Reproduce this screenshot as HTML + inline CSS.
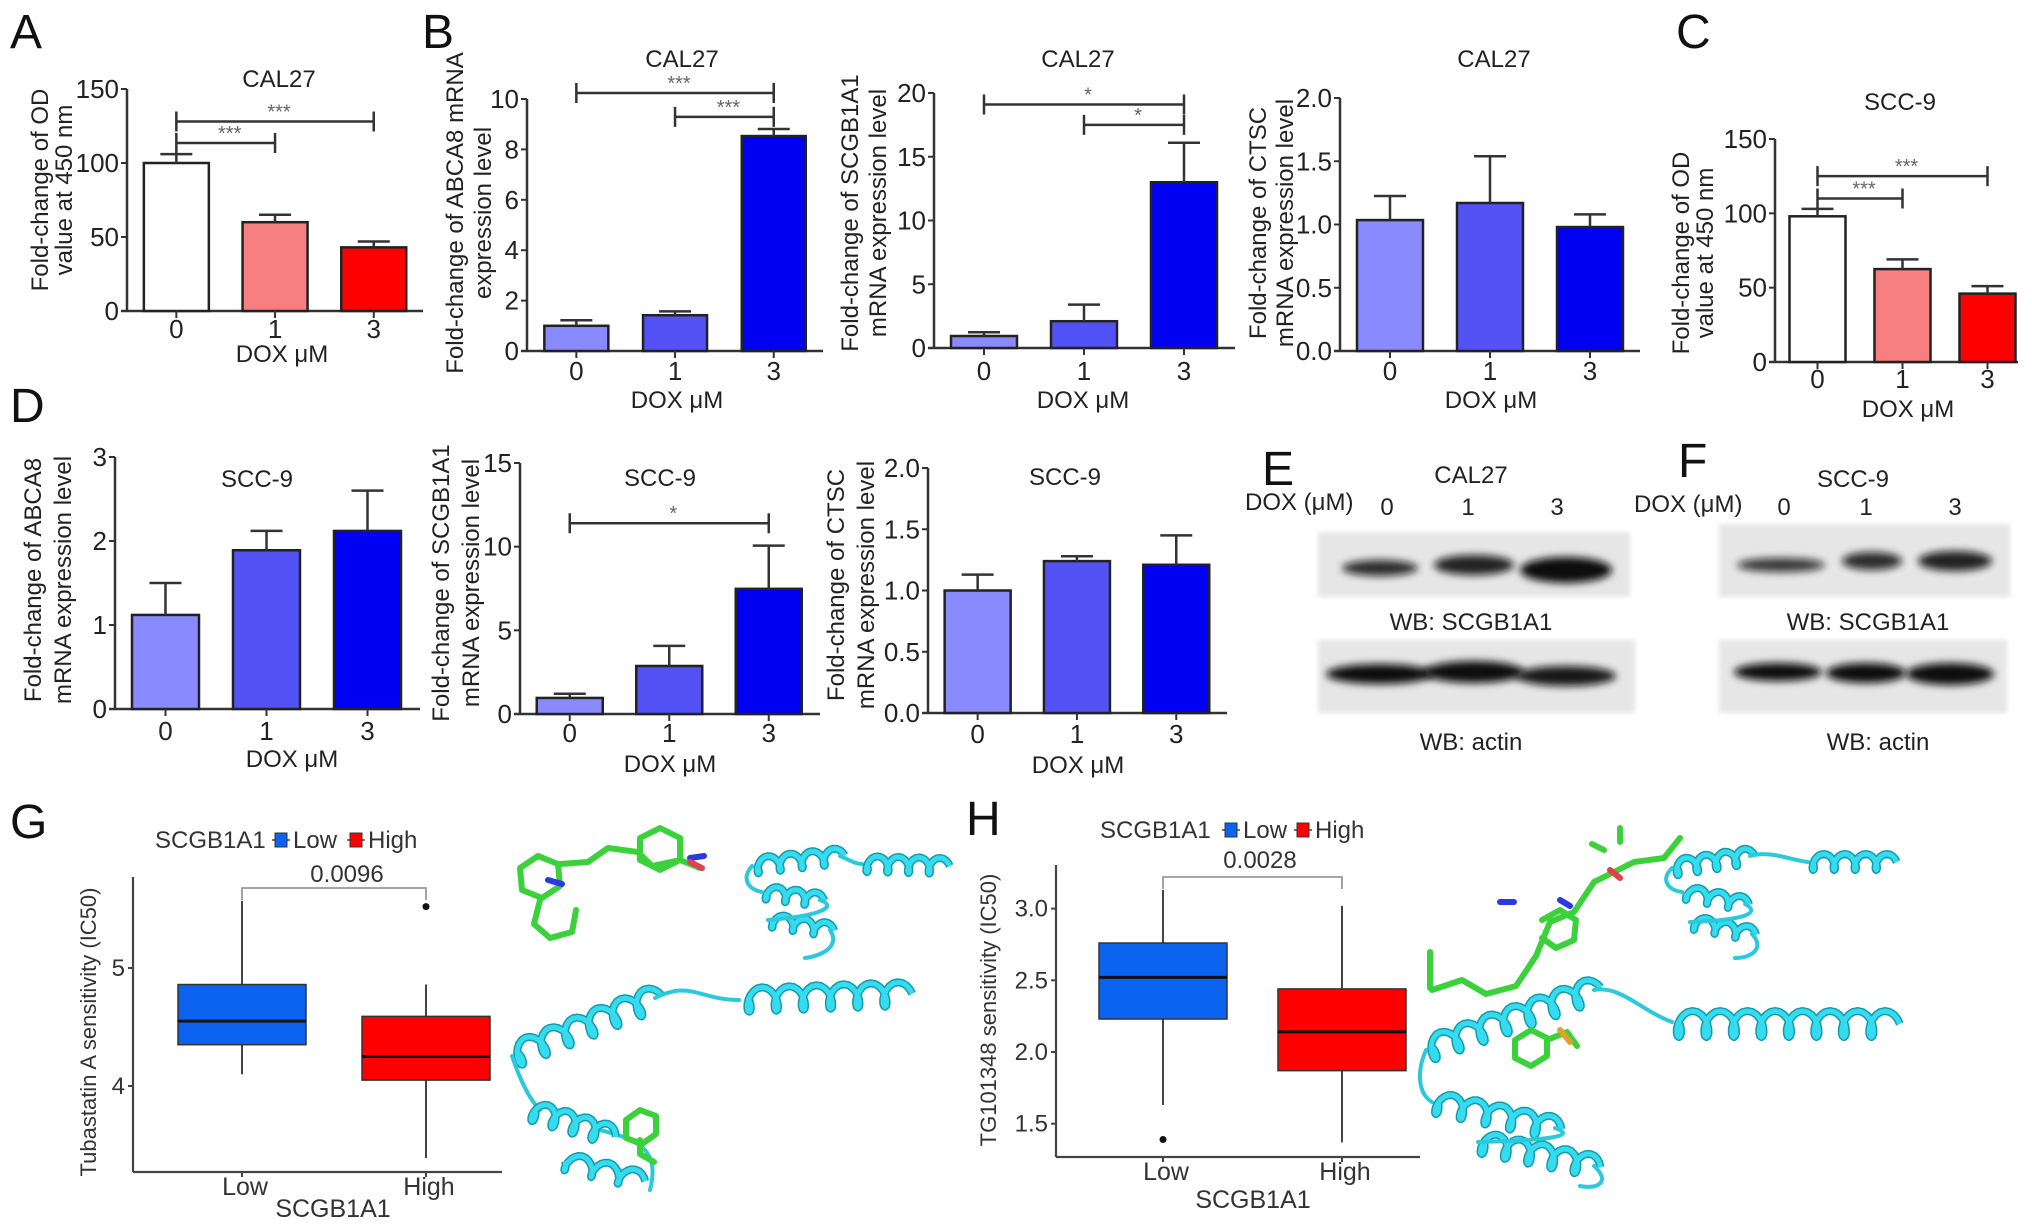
<!DOCTYPE html>
<html><head><meta charset="utf-8">
<style>
html,body{margin:0;padding:0;background:#fff;}
svg{display:block;font-family:"Liberation Sans",Arial,sans-serif;}
</style></head>
<body>
<svg id="fig" width="2032" height="1230" viewBox="0 0 2032 1230" xmlns="http://www.w3.org/2000/svg">
<defs>
<filter id="blur4" x="-30%" y="-80%" width="160%" height="260%"><feGaussianBlur stdDeviation="4"/></filter>
<filter id="blur2" x="-10%" y="-30%" width="120%" height="160%"><feGaussianBlur stdDeviation="2.5"/></filter>
</defs>
</svg>
<script>
// ---------- DATA ----------
const doseCats = ['0','1','3'];
// A: CAL27 OD
const aValues = [100, 60, 43];
const aErrors = [6, 5, 4];
const aTicks = [0, 50, 100, 150];
const aTickLabels = ['0','50','100','150'];
const aSigFrom = [0, 0], aSigTo = [2, 1], aSigVal = [128, 113.5], aSigText = ['***','***'];
// B1: CAL27 ABCA8
const b1Values = [1.0, 1.42, 8.53];
const b1Errors = [0.22, 0.15, 0.28];
const b1Ticks = [0, 2, 4, 6, 8, 10];
const b1TickLabels = ['0','2','4','6','8','10'];
const b1SigFrom = [0, 1], b1SigTo = [2, 2], b1SigVal = [10.24, 9.29], b1SigText = ['***','***'];
// B2: CAL27 SCGB1A1
const b2Values = [0.94, 2.1, 13.0];
const b2Errors = [0.3, 1.3, 3.1];
const b2Ticks = [0, 5, 10, 15, 20];
const b2TickLabels = ['0','5','10','15','20'];
const b2SigFrom = [0, 1], b2SigTo = [2, 2], b2SigVal = [19.1, 17.5], b2SigText = ['*','*'];
// B3: CAL27 CTSC
const b3Values = [1.035, 1.17, 0.98];
const b3Errors = [0.19, 0.37, 0.1];
const b3Ticks = [0, 0.5, 1, 1.5, 2];
const b3TickLabels = ['0.0','0.5','1.0','1.5','2.0'];
// C: SCC-9 OD
const cValues = [98, 62.5, 46];
const cErrors = [5, 6.5, 5];
const cTicks = [0, 50, 100, 150];
const cTickLabels = ['0','50','100','150'];
const cSigFrom = [0, 0], cSigTo = [2, 1], cSigVal = [125, 110], cSigText = ['***','***'];
// D1: SCC-9 ABCA8
const d1Values = [1.12, 1.89, 2.12];
const d1Errors = [0.38, 0.23, 0.48];
const d1Ticks = [0, 1, 2, 3];
const d1TickLabels = ['0','1','2','3'];
// D2: SCC-9 SCGB1A1
const d2Values = [0.96, 2.87, 7.48];
const d2Errors = [0.25, 1.2, 2.58];
const d2Ticks = [0, 5, 10, 15];
const d2TickLabels = ['0','5','10','15'];
const d2SigFrom = [0], d2SigTo = [2], d2SigVal = [11.4], d2SigText = ['*'];
// D3: SCC-9 CTSC
const d3Values = [1.0, 1.24, 1.21];
const d3Errors = [0.13, 0.04, 0.24];
const d3Ticks = [0, 0.5, 1, 1.5, 2];
const d3TickLabels = ['0.0','0.5','1.0','1.5','2.0'];
// G: box plot Tubastatin A  [lo, q1, median, q3, hi]
const boxGroups = ['Low','High'];
const gLow = [4.1, 4.35, 4.55, 4.86, 5.57];
const gHigh = [3.39, 4.05, 4.25, 4.59, 4.86];
const gOutLow = [];
const gOutHigh = [5.52];
const gTicks = [4, 5];
const gTickLabels = ['4','5'];
// H: box plot TG101348
const hLow = [1.63, 2.23, 2.52, 2.76, 3.13];
const hHigh = [1.37, 1.87, 2.14, 2.44, 3.02];
const hOutLow = [1.39];
const hOutHigh = [];
const hTicks = [1.5, 2.0, 2.5, 3.0];
const hTickLabels = ['1.5','2.0','2.5','3.0'];

// ---------- HELPERS ----------
const svg = document.getElementById('fig');
const NS = 'http://www.w3.org/2000/svg';
function mk(tag, attrs, parent){
  const e = document.createElementNS(NS, tag);
  for (const k in attrs) e.setAttribute(k, attrs[k]);
  (parent || svg).appendChild(e);
  return e;
}
function txt(s, x, y, size, anchor, parent, fill){
  const t = mk('text', {x:x, y:y, 'font-size':size, 'text-anchor':anchor||'middle', fill:fill||'#222'}, parent);
  t.textContent = s;
  return t;
}
const WHITE='#ffffff', PINK='#f77f7f', RED='#ff0000', B1C='#8a8aff', B2C='#5252f5', B3C='#0000f2';

function barChart(name, o){
  const g = mk('g', {});
  
  
  const y = v => o.yBase - v / o.vmax * (o.yBase - o.yTop);
  const xc = i => o.ax + o.step * (i + 0.5);
  // axes
  const ya = mk('line', {x1:o.ax, y1:o.yTop, x2:o.ax, y2:o.yBase, stroke:'#333','stroke-width':2.5}, g);
  
  
  const xa = mk('line', {x1:o.ax-6, y1:o.yBase, x2:o.xEnd, y2:o.yBase, stroke:'#333','stroke-width':2.5}, g);
  
  
  o.ticks.forEach((t, i) => {
    mk('line', {x1:o.ax-6, y1:y(t), x2:o.ax, y2:y(t), stroke:'#333','stroke-width':2}, g);
    const tl = txt(o.tickLabels[i], o.ax-8, y(t)+9, 26, 'end', g);
    
    
  });
  o.values.forEach((v, i) => {
    const cx = xc(i);
    const r = mk('rect', {x:cx-o.bw/2, y:y(v), width:o.bw, height:o.yBase-y(v), fill:o.colors[i], stroke:'#222','stroke-width':2.5}, g);
    
    
    const et = y(v + o.errors[i]);
    const eb = mk('path', {d:`M${cx},${y(v)}V${et}M${cx-16},${et}H${cx+16}`, stroke:'#333','stroke-width':2.5, fill:'none'}, g);
    
    
    mk('line', {x1:cx, y1:o.yBase, x2:cx, y2:o.yBase+7, stroke:'#333','stroke-width':2}, g);
    const xl = txt(doseCats[i], cx, o.xlY, 26, 'middle', g);
    
    
  });
  if (o.sigFrom){
    o.sigFrom.forEach((f, i) => {
      const x1 = xc(f), x2 = xc(o.sigTo[i]), sy = y(o.sigVal[i]);
      const p = mk('path', {d:`M${x1},${sy-10}V${sy+10}M${x1},${sy}H${x2}M${x2},${sy-10}V${sy+10}`, stroke:'#333','stroke-width':2.5, fill:'none'}, g);
      
      
      const st = txt(o.sigText[i], (x1+x2)/2+4, sy-3, 20, 'middle', g, '#666');
      
      
    });
  }
  const ti = txt(o.title, o.titleX, o.titleY, 24, 'middle', g);
  
  
  const dx = txt('DOX \u03bcM', o.doxX, o.doxY, 24, 'middle', g);
  
  
  o.ylab.forEach((s, i) => {
    const lx = o.ylabX[i] + 8;
    const t = mk('text', {x:lx, y:o.ylabY, 'font-size':24, 'text-anchor':'middle', fill:'#222', transform:`rotate(-90 ${lx} ${o.ylabY})`}, g);
    t.textContent = s;
    
    
  });
}

function letter(s, x, y){
  const t = txt(s, x, y, 48, 'start');
  t.setAttribute('fill', '#111');
  
  
}

// ---------- BAR PANELS ----------
letter('A', 10, 48); letter('B', 422, 48); letter('C', 1676, 48);
letter('D', 10, 422); letter('E', 1262, 485); letter('F', 1678, 477);
letter('G', 10, 838); letter('H', 966, 835);

barChart('panel-a-cal27-od', {ax:127, yBase:311, yTop:89, vmax:150, step:98.7, bw:65, xEnd:423,
  ticks:aTicks, tickLabels:aTickLabels, values:aValues, errors:aErrors, colors:[WHITE,PINK,RED],
  sigFrom:aSigFrom, sigTo:aSigTo, sigVal:aSigVal, sigText:aSigText,
  title:'CAL27', titleX:279, titleY:87, xlY:338, doxX:282, doxY:362,
  ylab:['Fold-change of OD','value at 450 nm'], ylabX:[40,64], ylabY:190});
barChart('panel-b-cal27-abca8', {ax:527, yBase:351, yTop:99, vmax:10, step:98.7, bw:64, xEnd:823,
  ticks:b1Ticks, tickLabels:b1TickLabels, values:b1Values, errors:b1Errors, colors:[B1C,B2C,B3C],
  sigFrom:b1SigFrom, sigTo:b1SigTo, sigVal:b1SigVal, sigText:b1SigText,
  title:'CAL27', titleX:682, titleY:67, xlY:380, doxX:677, doxY:408,
  ylab:['Fold-change of ABCA8 mRNA','expression level'], ylabX:[455,483], ylabY:213});
barChart('panel-b-cal27-scgb1a1', {ax:934, yBase:348, yTop:93, vmax:20, step:100, bw:66, xEnd:1235,
  ticks:b2Ticks, tickLabels:b2TickLabels, values:b2Values, errors:b2Errors, colors:[B1C,B2C,B3C],
  sigFrom:b2SigFrom, sigTo:b2SigTo, sigVal:b2SigVal, sigText:b2SigText,
  title:'CAL27', titleX:1078, titleY:67, xlY:380, doxX:1083, doxY:408,
  ylab:['Fold-change of SCGB1A1','mRNA expression level'], ylabX:[850,878], ylabY:213});
barChart('panel-b-cal27-ctsc', {ax:1340, yBase:351, yTop:98, vmax:2, step:100, bw:66, xEnd:1640,
  ticks:b3Ticks, tickLabels:b3TickLabels, values:b3Values, errors:b3Errors, colors:[B1C,B2C,B3C],
  title:'CAL27', titleX:1494, titleY:67, xlY:380, doxX:1491, doxY:408,
  ylab:['Fold-change of CTSC','mRNA expression level'], ylabX:[1258,1285], ylabY:223});
barChart('panel-c-scc9-od', {ax:1775, yBase:362, yTop:139, vmax:150, step:85, bw:56, xEnd:2018,
  ticks:cTicks, tickLabels:cTickLabels, values:cValues, errors:cErrors, colors:[WHITE,PINK,RED],
  sigFrom:cSigFrom, sigTo:cSigTo, sigVal:cSigVal, sigText:cSigText,
  title:'SCC-9', titleX:1900, titleY:110, xlY:388, doxX:1908, doxY:417,
  ylab:['Fold-change of OD','value at 450 nm'], ylabX:[1681,1705], ylabY:253});
barChart('panel-d-scc9-abca8', {ax:115, yBase:709, yTop:457, vmax:3, step:101, bw:67, xEnd:420,
  ticks:d1Ticks, tickLabels:d1TickLabels, values:d1Values, errors:d1Errors, colors:[B1C,B2C,B3C],
  title:'SCC-9', titleX:257, titleY:487, xlY:740, doxX:292, doxY:767,
  ylab:['Fold-change of ABCA8','mRNA expression level'], ylabX:[33,63], ylabY:580});
barChart('panel-d-scc9-scgb1a1', {ax:520, yBase:714, yTop:463, vmax:15, step:99.5, bw:66, xEnd:820,
  ticks:d2Ticks, tickLabels:d2TickLabels, values:d2Values, errors:d2Errors, colors:[B1C,B2C,B3C],
  sigFrom:d2SigFrom, sigTo:d2SigTo, sigVal:d2SigVal, sigText:d2SigText,
  title:'SCC-9', titleX:660, titleY:486, xlY:742, doxX:670, doxY:772,
  ylab:['Fold-change of SCGB1A1','mRNA expression level'], ylabX:[441,471], ylabY:583});
barChart('panel-d-scc9-ctsc', {ax:928, yBase:713, yTop:468, vmax:2, step:99.3, bw:66, xEnd:1227,
  ticks:d3Ticks, tickLabels:d3TickLabels, values:d3Values, errors:d3Errors, colors:[B1C,B2C,B3C],
  title:'SCC-9', titleX:1065, titleY:485, xlY:743, doxX:1078, doxY:773,
  ylab:['Fold-change of CTSC','mRNA expression level'], ylabX:[836,866], ylabY:585});

// ---------- WESTERN BLOTS ----------
function blot(name, x, y, w, h, bands){
  const g = mk('g', {});
  
  
  mk('rect', {x:x, y:y, width:w, height:h, fill:'#e6e6e6', filter:'url(#blur2)'}, g);
  bands.forEach(b => {
    const e = mk('ellipse', {cx:b[0], cy:b[1], rx:b[2], ry:b[3], fill:'#111', opacity:b[4], filter:'url(#blur4)'}, g);
    
    
  });
}
blot('blot-e-scgb1a1', 1318, 532, 312, 65, [[1380,568,38,8,0.85],[1474,565,40,10,0.9],[1566,570,46,13,1]]);
blot('blot-e-actin', 1318, 640, 317, 73, [[1380,674,54,10,1],[1474,672,50,11,1],[1566,676,50,10,0.95]]);
blot('blot-f-scgb1a1', 1719, 524, 291, 73, [[1781,565,44,7,0.8],[1872,561,30,9,0.85],[1955,561,37,10,0.9]]);
blot('blot-f-actin', 1719, 640, 288, 73, [[1778,672,44,9,1],[1866,673,40,10,1],[1950,674,44,11,1]]);
[
 ['CAL27',1471,483,'middle','blot-e-cell-line'],['DOX (\u03bcM)',1245,510,'start','blot-e-dose-title'],
 ['0',1387,515,'middle','blot-e-lane-0'],['1',1468,515,'middle','blot-e-lane-1'],['3',1557,515,'middle','blot-e-lane-3'],
 ['WB: SCGB1A1',1471,630,'middle','blot-e-label-scgb1a1'],['WB: actin',1471,750,'middle','blot-e-label-actin'],
 ['SCC-9',1853,487,'middle','blot-f-cell-line'],['DOX (\u03bcM)',1634,512,'start','blot-f-dose-title'],
 ['0',1784,515,'middle','blot-f-lane-0'],['1',1866,515,'middle','blot-f-lane-1'],['3',1955,515,'middle','blot-f-lane-3'],
 ['WB: SCGB1A1',1868,630,'middle','blot-f-label-scgb1a1'],['WB: actin',1878,750,'middle','blot-f-label-actin']
].forEach(a => {
  const t = txt(a[0], a[1], a[2], 24, a[3]);
  
  
});

// ---------- BOX PLOTS ----------
function boxPlot(name, o){
  const g = mk('g', {});
  
  
  const y = v => o.y0 - (v - o.v0) * o.ppu;
  const xc = i => o.ax + o.first + o.step * i;
  const ya = mk('line', {x1:o.ax, y1:o.yTop, x2:o.ax, y2:o.yBase, stroke:'#444','stroke-width':2.2}, g);
  
  
  const xa = mk('line', {x1:o.ax, y1:o.yBase, x2:o.xEnd, y2:o.yBase, stroke:'#444','stroke-width':2.2}, g);
  
  
  o.ticks.forEach((t, i) => {
    mk('line', {x1:o.ax-5, y1:y(t), x2:o.ax, y2:y(t), stroke:'#444','stroke-width':2}, g);
    const tl = txt(o.tickLabels[i], o.ax-8, y(t)+8, 24, 'end', g, '#333');
    
    
  });
  const cols = ['#0a64f0', '#ff0000'];
  o.data.forEach((d, i) => {
    const cx = xc(i), hw = 64;
    const w = mk('path', {d:`M${cx},${y(d[4])}V${y(d[3])}M${cx},${y(d[1])}V${y(d[0])}`, stroke:'#444','stroke-width':2, fill:'none'}, g);
    
    
    const r = mk('rect', {x:cx-hw, y:y(d[3]), width:hw*2, height:y(d[1])-y(d[3]), fill:cols[i], stroke:'#333','stroke-width':1.5}, g);
    
    
    const m = mk('line', {x1:cx-hw, y1:y(d[2]), x2:cx+hw, y2:y(d[2]), stroke:'#111','stroke-width':3}, g);
    
    
    o.outliers[i].forEach(v => {
      const c = mk('circle', {cx:cx, cy:y(v), r:3.5, fill:'#111'}, g);
      
      
    });
    mk('line', {x1:cx, y1:o.yBase, x2:cx, y2:o.yBase+5, stroke:'#444','stroke-width':2}, g);
    const xl = txt(boxGroups[i], cx+3, o.xlY, 25, 'middle', g, '#333');
    
    
  });
  const br = mk('path', {d:`M${xc(0)},${o.brY+12}V${o.brY}H${xc(1)}V${o.brY+12}`, stroke:'#999','stroke-width':1.8, fill:'none'}, g);
  
  
  const pv = txt(o.pval, o.pX, o.pY, 24, 'middle', g, '#333');
  
  
  const xt = txt('SCGB1A1', o.xtX, o.xtY, 25, 'middle', g, '#333');
  
  
  const yt = mk('text', {x:o.ytX+8, y:o.ytY, 'font-size':22, 'text-anchor':'middle', fill:'#333', transform:`rotate(-90 ${o.ytX+8} ${o.ytY})`}, g);
  yt.textContent = o.ytitle;
  
  
  // legend
  const lg = mk('g', {}, g);
  
  
  txt('SCGB1A1', o.lgX, o.lgY, 24, 'start', lg, '#333');
  [[o.k1, cols[0], 'Low'], [o.k2, cols[1], 'High']].forEach(k => {
    const e = mk('g', {}, lg);
    
    
    mk('line', {x1:k[0], y1:o.lgY-8, x2:k[0]+18, y2:o.lgY-8, stroke:'#444','stroke-width':1.5}, e);
    mk('rect', {x:k[0]+3, y:o.lgY-15, width:12, height:14, fill:k[1], stroke:'#333','stroke-width':1}, e);
    txt(k[2], k[0]+21, o.lgY, 24, 'start', e, '#333');
  });
}
boxPlot('panel-g-tubastatin-boxplot', {ax:133, yTop:877, yBase:1172, xEnd:502, y0:1086, v0:4, ppu:118,
  first:109, step:184, ticks:gTicks, tickLabels:gTickLabels, data:[gLow, gHigh], outliers:[gOutLow, gOutHigh],
  xlY:1195, brY:888, pval:'0.0096', pX:347, pY:882, xtX:333, xtY:1217, ytX:88, ytY:1032,
  ytitle:'Tubastatin A sensitivity (IC50)', lgX:155, lgY:848, k1:272, k2:347});
boxPlot('panel-h-tg101348-boxplot', {ax:1056, yTop:865, yBase:1157, xEnd:1420, y0:1052, v0:2, ppu:143.4,
  first:107, step:179, ticks:hTicks, tickLabels:hTickLabels, data:[hLow, hHigh], outliers:[hOutLow, hOutHigh],
  xlY:1180, brY:877, pval:'0.0028', pX:1260, pY:868, xtX:1253, xtY:1208, ytX:988, ytY:1010,
  ytitle:'TG101348 sensitivity (IC50)', lgX:1100, lgY:838, k1:1222, k2:1294});

// ---------- MOLECULAR STRUCTURES (illustrative) ----------
function helix(parent, x1, y1, x2, y2, turns, r){
  const dx = x2-x1, dy = y2-y1, L = Math.hypot(dx, dy), ux = dx/L, uy = dy/L, px = -uy, py = ux;
  let d = '';
  const n = turns * 16;
  for (let i = 0; i <= n; i++){
    const t = i / n, a = 2*Math.PI*turns*t;
    const along = t*L + r*0.6*Math.cos(a);
    const side = r*Math.sin(a);
    d += (i ? 'L' : 'M') + (x1 + ux*along + px*side).toFixed(1) + ',' + (y1 + uy*along + py*side).toFixed(1);
  }
  mk('path', {d:d, fill:'none', stroke:'#149aaa','stroke-width':8,'stroke-linejoin':'round'}, parent);
  mk('path', {d:d, fill:'none', stroke:'#35dcef','stroke-width':5,'stroke-linejoin':'round'}, parent);
}
function coil(parent, d){
  mk('path', {d:d, fill:'none', stroke:'#2cc8dc','stroke-width':4,'stroke-linecap':'round'}, parent);
}
function sticks(parent, d, col){
  mk('path', {d:d, fill:'none', stroke:col||'#3bd13b','stroke-width':6,'stroke-linejoin':'round','stroke-linecap':'round'}, parent);
}
function protein(name, pieces){
  const g = mk('g', {});
  
  
  pieces(g);
}
// G
protein('g-ligand-structure', g => {
  sticks(g, 'M520,868 l18,-12 l20,8 l2,22 l-18,12 l-20,-8 z M540,900 l-6,24 l16,14 l22,-6 l4,-22 M560,864 l28,-2 l20,-14 l30,4 l14,14 l28,-6 l20,8 M640,852 l0,-14 l20,-10 l20,10 l0,22 l-20,10 l-20,-10 z');
  sticks(g, 'M548,880 l14,4 M690,858 l14,-2', '#2a3ae0');
  sticks(g, 'M690,862 l12,6', '#e04050');
});
protein('g-small-protein', g => {
  helix(g, 752, 866, 840, 856, 4, 8); coil(g, 'M840,856 C850,860 855,864 862,864');
  helix(g, 862, 864, 945, 866, 4, 8);
  helix(g, 762, 892, 820, 900, 3, 7); helix(g, 768, 920, 830, 930, 3, 7);
  coil(g, 'M752,866 C740,880 750,890 762,892 M820,900 C835,905 830,915 768,920 M830,930 C840,945 825,955 805,958');
});
protein('g-docked-complex', g => {
  helix(g, 512, 1056, 655, 998, 6, 12); coil(g, 'M655,998 C690,980 700,1000 739,1000');
  helix(g, 742, 1000, 905, 994, 6, 12);
  coil(g, 'M512,1056 C520,1080 530,1100 540,1110 M600,1130 C640,1140 660,1150 650,1190');
  helix(g, 530, 1110, 610, 1135, 4, 10); helix(g, 560, 1160, 640, 1180, 3, 9);
  sticks(g, 'M626,1120 l14,-10 l16,6 l0,18 l-14,10 l-16,-6 z M640,1140 l0,14 l14,8');
});
// H
protein('h-ligand-structure', g => {
  sticks(g, 'M1432,990 l30,-10 l24,14 l30,-8 l20,-30 l14,-34 l24,-10 l20,-30 l40,-20 l30,-4 l16,-20 M1542,920 l18,-10 l16,10 l-2,20 l-18,8 l-14,-10 M1620,842 l0,-14 M1604,850 l-12,-6');
  sticks(g, 'M1430,952 l0,36', '#3bd13b');
  sticks(g, 'M1500,902 l14,0 M1560,900 l10,6', '#2a3ae0');
  sticks(g, 'M1610,870 l10,8', '#e04050');
});
protein('h-small-protein', g => {
  helix(g, 1672, 868, 1750, 856, 4, 8); coil(g, 'M1750,856 C1770,850 1790,860 1808,862');
  helix(g, 1808, 862, 1892, 862, 4, 8);
  helix(g, 1682, 892, 1745, 904, 3, 7); helix(g, 1690, 922, 1752, 934, 3, 7);
  coil(g, 'M1672,868 C1660,880 1668,890 1682,892 M1745,904 C1760,912 1750,920 1690,922 M1752,934 C1765,948 1752,958 1735,958');
});
protein('h-docked-complex', g => {
  helix(g, 1426, 1050, 1594, 990, 7, 12); coil(g, 'M1594,990 C1620,985 1640,1010 1672,1022');
  helix(g, 1672, 1024, 1892, 1024, 8, 13);
  helix(g, 1432, 1102, 1555, 1128, 5, 11); helix(g, 1478, 1142, 1594, 1166, 5, 11);
  coil(g, 'M1426,1050 C1415,1075 1420,1095 1432,1102 M1555,1128 C1575,1135 1560,1140 1478,1142 M1594,1166 C1610,1180 1600,1190 1580,1186');
  sticks(g, 'M1515,1040 l16,-10 l16,8 l0,18 l-16,10 l-16,-8 z M1547,1040 l20,-8 l10,14');
  sticks(g, 'M1560,1030 l10,12', '#e0a030');
});
</script>
</body></html>
